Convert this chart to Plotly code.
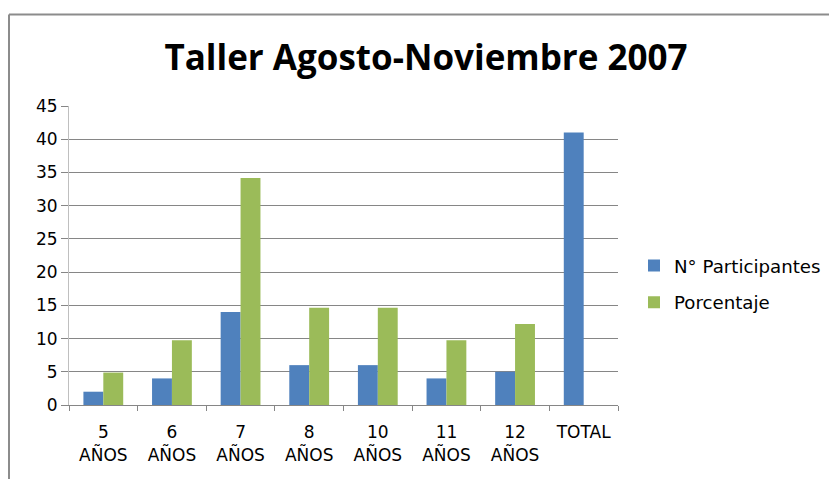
import plotly.graph_objects as go

categories = ["5<br>AÑOS", "6<br>AÑOS", "7<br>AÑOS", "8<br>AÑOS", "10<br>AÑOS", "11<br>AÑOS", "12<br>AÑOS", "TOTAL"]
participantes = [2, 4, 14, 6, 6, 4, 5, 41]
porcentaje = [4.88, 9.76, 34.15, 14.63, 14.63, 9.76, 12.2, None]
y_ticks = [0, 5, 10, 15, 20, 25, 30, 35, 40, 45]

OFF = 8  # page body offset
W, H = 837 - OFF, 479 - OFF
# plot area in page pixels
PX0, PX1, PY0, PY1 = 69, 618, 105.7, 405
L, R = PX0 - OFF, W - (PX1 - OFF)
T, B = PY0 - OFF, H - (PY1 - OFF)
pw, ph = PX1 - PX0, PY1 - PY0

def px_x(p):
    return (p - PX0) / pw

def px_y(p):
    return (PY1 - p) / ph

fig = go.Figure()
fig.add_trace(go.Bar(x=categories, y=participantes, name="N° Participantes",
                     marker=dict(color="#4F81BD", line=dict(width=0)), legendgroup="a"))
fig.add_trace(go.Bar(x=categories, y=porcentaje, name="Porcentaje",
                     marker=dict(color="#9BBB59", line=dict(width=0)), legendgroup="b"))

border = "#8C8C8C"
fig.add_shape(type="line", xref="paper", yref="paper",
              x0=px_x(9), x1=px_x(845), y0=px_y(14), y1=px_y(14),
              line=dict(color=border, width=2))
fig.add_shape(type="line", xref="paper", yref="paper",
              x0=px_x(9), x1=px_x(9), y0=px_y(14), y1=px_y(485),
              line=dict(color=border, width=2))

fig.update_layout(
    width=W, height=H,
    margin=dict(l=L, r=R, t=T, b=B, autoexpand=False),
    paper_bgcolor="white", plot_bgcolor="white",
    barmode="group", bargap=0.42, bargroupgap=0,
    title=dict(text="<b>Taller Agosto-Noviembre 2007</b>",
               font=dict(family="Open Sans", size=35, color="black"),
               x=(426 - OFF) / W, xanchor="center", xref="container",
               y=1 - (57.5 - OFF) / H, yanchor="middle", yref="container"),
    font=dict(family="DejaVu Sans", size=16, color="black"),
    legend=dict(x=px_x(634), y=px_y(247), xanchor="left", yanchor="top",
                font=dict(family="DejaVu Sans", size=18.2, color="black"),
                tracegroupgap=10, bgcolor="rgba(0,0,0,0)"),
    showlegend=True,
)
fig.update_xaxes(showgrid=False, showline=True, linecolor="#868686", linewidth=1,
                 ticks="outside", tickson="boundaries", ticklen=5, tickcolor="#868686",
                 ticklabelstandoff=12,
                 tickfont=dict(family="DejaVu Sans", size=17, color="black"))
fig.update_yaxes(range=[0, 45], tickvals=y_ticks, showgrid=True, gridcolor="#868686", gridwidth=1,
                 zeroline=False, showline=True, linecolor="#BFBFBF", linewidth=1,
                 ticks="outside", ticklen=7, tickcolor="#868686",
                 tickfont=dict(family="DejaVu Sans", size=17, color="black"))

fig.write_html("out.html")
